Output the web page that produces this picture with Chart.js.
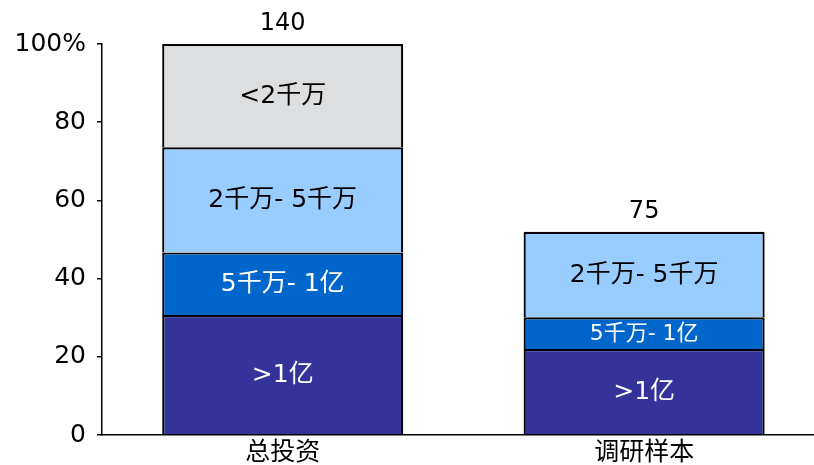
<!DOCTYPE html>
<html>
<head>
<meta charset="utf-8">
<script src="https://cdn.jsdelivr.net/npm/chart.js@4/dist/chart.umd.min.js"></script>
<style>
  html, body { margin: 0; padding: 0; background: #fff; }
  #wrap { width: 814px; height: 465px; }
</style>
</head>
<body>
<div id="wrap"><canvas id="c" width="814" height="465"></canvas></div>
<script>
const categories = ['总投资', '调研样本'];
const segmentNames = ['>1亿', '5千万- 1亿', '2千万- 5千万', '<2千万'];
const over100M = [30.7, 22.0];
const from50Mto100M = [16.0, 8.1];
const from20Mto50M = [26.9, 21.9];
const under20M = [26.4, null];
const sampleCounts = [140, 75];
const yTickValues = [0, 20, 40, 60, 80, 100];

const seriesValues = [over100M, from50Mto100M, from20Mto50M, under20M];
const fills = ['#333399', '#0066CC', '#99CCFF', '#DDDEE0'];
const textColors = ['#ffffff', '#ffffff', '#000000', '#000000'];
const FONT = '"DejaVu Sans", Verdana, "Noto Sans CJK SC", sans-serif';

const datasets = seriesValues.map((vals, i) => ({
  label: segmentNames[i],
  data: vals.map((v, j) => ({ x: j, y: v })),
  backgroundColor: fills[i],
  borderColor: '#000000',
  borderWidth: 2.2,
  categoryPercentage: 1,
  barPercentage: 0.667
}));

const labelPlugin = {
  id: 'segLabels',
  afterDatasetsDraw(chart) {
    const ctx = chart.ctx;
    ctx.save();
    ctx.textAlign = 'center';
    ctx.textBaseline = 'middle';
    const tops = [];
    chart.data.datasets.forEach((ds, i) => {
      const meta = chart.getDatasetMeta(i);
      meta.data.forEach((bar, j) => {
        const v = seriesValues[i][j];
        if (v === null || v === undefined) return;
        const p = bar.getProps(['x', 'y', 'base'], true);
        const h = Math.abs(p.base - p.y);
        const size = h < 40 ? 22 : 25;
        ctx.font = size + 'px ' + FONT;
        ctx.fillStyle = textColors[i];
        ctx.fillText(segmentNames[i], p.x, (p.y + p.base) / 2 + 1);
        if (tops[j] === undefined || p.y < tops[j].y) tops[j] = { x: p.x, y: p.y };
      });
    });
    ctx.font = '24px ' + FONT;
    ctx.fillStyle = '#000000';
    ctx.textBaseline = 'alphabetic';
    tops.forEach((t, j) => {
      if (!t) return;
      ctx.fillText(String(sampleCounts[j]), t.x, t.y - 14);
    });
    ctx.restore();
  }
};

new Chart(document.getElementById('c'), {
  type: 'bar',
  data: { datasets },
  options: {
    responsive: false,
    animation: false,
    devicePixelRatio: 1,
    layout: { padding: { top: 44, right: 0, bottom: 0, left: 0 } },
    plugins: { legend: { display: false }, tooltip: { enabled: false } },
    scales: {
      x: {
        type: 'linear',
        stacked: true,
        offset: false,
        min: -0.5,
        max: 1.47,
        afterBuildTicks(scale) { scale.ticks = categories.map((_, i) => ({ value: i })); },
        afterFit(scale) { scale.height = 30; },
        ticks: {
          autoSkip: false,
          padding: 3,
          color: '#000000',
          font: { family: FONT, size: 25 },
          callback: (v) => categories[v] !== undefined ? categories[v] : ''
        },
        grid: { drawOnChartArea: false, drawTicks: false, offset: false },
        border: { display: true, color: '#000000', width: 1.5 }
      },
      y: {
        stacked: true,
        min: 0,
        max: 100,
        afterBuildTicks(scale) { scale.ticks = yTickValues.map(v => ({ value: v })); },
        afterFit(scale) { scale.width = 102; },
        ticks: {
          padding: 11,
          color: '#000000',
          font: { family: FONT, size: 25 },
          callback: (v) => v === 100 ? v + '%' : String(v)
        },
        grid: { drawOnChartArea: false, drawTicks: true, tickLength: 5, color: '#000000', lineWidth: 1.5 },
        border: { display: true, color: '#000000', width: 1.5 }
      }
    }
  },
  plugins: [labelPlugin]
});
</script>
</body>
</html>
